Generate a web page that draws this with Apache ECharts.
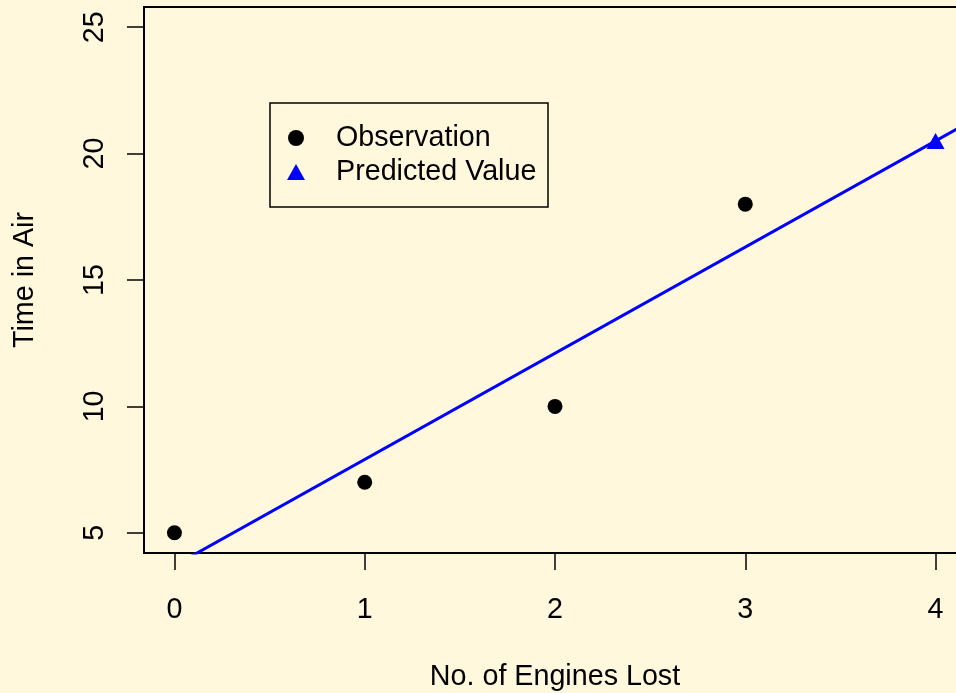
<!DOCTYPE html>
<html>
<head>
<meta charset="utf-8">
<title>Time in Air vs. No. of Engines Lost</title>
<script src="https://cdn.jsdelivr.net/npm/echarts@6/dist/echarts.min.js"></script>
<style>
  html, body { margin: 0; padding: 0; background: #FFF8DC; overflow: hidden; }
  #chart { width: 956px; height: 693px; }
</style>
</head>
<body>
<div id="chart"></div>
<script>
// Observed flights
const engines = [0, 1, 2, 3];
const timeInAir = [5, 7, 10, 18];

// Predicted value for four engines lost
const predictedEngines = [4];
const predictedTime = [20.5];

// Fitted straight line: time = fitIntercept + fitSlope * engines
const fitIntercept = 3.7;
const fitSlope = 4.2;

// Axis ticks
const xTicks = [0, 1, 2, 3, 4];
const yTicks = [5, 10, 15, 20, 25];

// Plot ranges (data range padded by 4% on each side)
const xRange = [-0.16, 4.16];
const yRange = [4.2, 25.8];

const FONT = '"Liberation Sans", Arial, Helvetica, sans-serif';
const FS = 28.7;

const obsData = engines.map((x, i) => [x, timeInAir[i]]);
const predData = predictedEngines.map((x, i) => [x, predictedTime[i]]);
const fitData = xRange.map(x => [x, fitIntercept + fitSlope * x]);

const chart = echarts.init(document.getElementById('chart'), null, { renderer: 'canvas' });

chart.setOption({
  backgroundColor: '#FFF8DC',
  animation: false,
  textStyle: { fontFamily: FONT },
  grid: {
    left: 144, top: 7, width: 822, height: 546,
    containLabel: false,
    outerBoundsMode: 'none',
    show: true, borderColor: '#000', borderWidth: 2,
    backgroundColor: 'transparent'
  },
  legend: {
    orient: 'vertical',
    left: 287, top: 123,
    padding: 0,
    itemWidth: 18, itemHeight: 16,
    itemGap: 4,
    symbolKeepAspect: true,
    textStyle: { fontFamily: FONT, fontSize: FS, color: '#000', lineHeight: 30, padding: [0, 0, 0, 26] },
    data: [
      { name: 'Observation', icon: 'circle', itemStyle: { color: '#000' } },
      { name: 'Predicted Value', icon: 'triangle', itemStyle: { color: '#0000FF' } }
    ]
  },
  graphic: [{
    type: 'rect',
    shape: { x: 270, y: 103, width: 278, height: 104 },
    style: { fill: 'none', stroke: '#000', lineWidth: 1.5 },
    z: 100
  }],
  xAxis: {
    type: 'value',
    min: xRange[0], max: xRange[1],
    name: 'No. of Engines Lost',
    nameLocation: 'middle',
    nameGap: 110,
    nameTextStyle: { fontFamily: FONT, fontSize: FS, color: '#000' },
    axisLine: { show: false, onZero: false },
    axisTick: { show: true, customValues: xTicks, length: 17, lineStyle: { color: '#000', width: 1.5 } },
    axisLabel: { customValues: xTicks, margin: 43, fontFamily: FONT, fontSize: FS, color: '#000' },
    splitLine: { show: false }
  },
  yAxis: {
    type: 'value',
    min: yRange[0], max: yRange[1],
    name: 'Time in Air',
    nameLocation: 'middle',
    nameGap: 104,
    nameTextStyle: { fontFamily: FONT, fontSize: FS, color: '#000' },
    axisLine: { show: false, onZero: false },
    axisTick: { show: true, customValues: yTicks, length: 17, lineStyle: { color: '#000', width: 1.5 } },
    axisLabel: { customValues: yTicks, rotate: 90, margin: 34, fontFamily: FONT, fontSize: FS, color: '#000' },
    splitLine: { show: false }
  },
  series: [
    {
      name: 'Observation',
      type: 'scatter',
      data: obsData,
      symbol: 'circle',
      symbolSize: 15,
      itemStyle: { color: '#000', opacity: 1 },
      z: 3
    },
    {
      name: 'Predicted Value',
      type: 'scatter',
      data: predData,
      symbol: 'triangle',
      symbolSize: [18, 16],
      itemStyle: { color: '#0000FF', opacity: 1 },
      z: 4
    },
    {
      name: 'Fitted line',
      type: 'line',
      data: fitData,
      showSymbol: false,
      symbol: 'none',
      clip: true,
      lineStyle: { color: '#0000FF', width: 3 },
      z: 2
    }
  ]
});
</script>
</body>
</html>
